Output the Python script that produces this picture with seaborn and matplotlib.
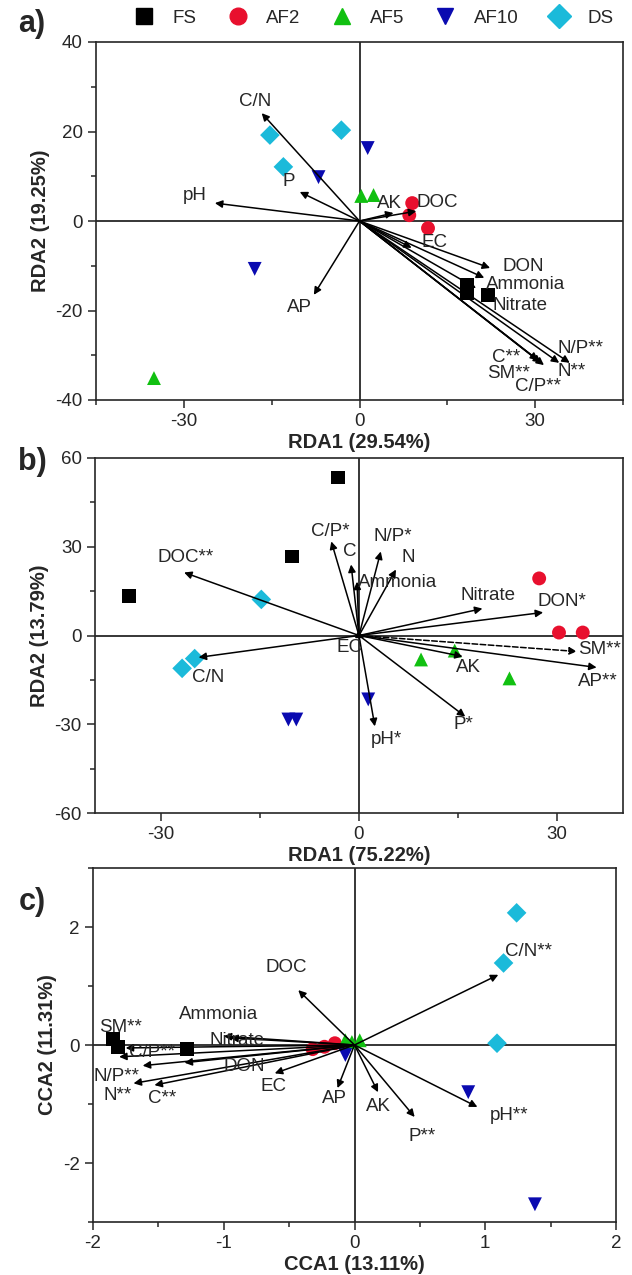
import pandas as pd
import matplotlib.pyplot as plt
import seaborn as sns
from matplotlib.lines import Line2D
from matplotlib.ticker import MultipleLocator

sns.set_style("ticks")
plt.rcParams['font.family'] = ['Liberation Sans', 'DejaVu Sans']
plt.rcParams['axes.unicode_minus'] = False

# treatment groups
groups = ["FS", "AF2", "AF5", "AF10", "DS"]
group_colors = ["#000000", "#e8102e", "#11c011", "#0a0ab0", "#1bbada"]
group_markers = ["s", "o", "^", "v", "D"]

# ---- panel a: RDA (sites) ----
a_group = ["FS", "FS", "FS", "AF2", "AF2", "AF2", "AF5", "AF5", "AF5",
           "AF10", "AF10", "AF10", "DS", "DS", "DS"]
a_x = [18.4, 18.4, 22.0, 9.0, 8.5, 11.7, 0.3, 2.4, -35.1,
       1.4, -7.0, -17.9, -15.3, -3.1, -13.0]
a_y = [-14.3, -16.2, -16.5, 4.0, 1.3, -1.6, 5.6, 5.8, -35.1,
       16.3, 9.8, -10.7, 19.2, 20.3, 12.1]
# panel a: environmental vectors
a_var = ["C/N", "P", "pH", "AP", "AK", "DOC", "EC", "DON", "Ammonia",
         "Nitrate", "C**", "SM**", "C/P**", "N**", "N/P**"]
a_vx = [-16.7, -10.2, -24.7, -7.8, 5.8, 9.7, 8.9, 22.3, 21.3,
        19.9, 30.5, 31.0, 31.5, 34.1, 35.9]
a_vy = [24.1, 6.5, 4.0, -16.5, 1.8, 2.2, -6.0, -10.5, -12.7,
        -15.0, -31.1, -31.7, -32.2, -31.7, -31.7]
a_lx = [-17.9, -12.1, -28.1, -10.2, 5.1, 13.3, 12.8, 27.9, 28.3,
        27.4, 25.0, 25.4, 30.4, 36.3, 37.8]
a_ly = [26.6, 8.9, 5.8, -19.3, 4.0, 4.2, -4.9, -10.1, -14.1,
        -18.8, -30.4, -34.0, -36.9, -33.7, -28.4]

# ---- panel b: RDA (sites) ----
b_group = ["FS", "FS", "FS", "AF2", "AF2", "AF2", "AF5", "AF5", "AF5",
           "AF10", "AF10", "AF10", "DS", "DS", "DS"]
b_x = [-3.2, -10.1, -34.8, 27.3, 30.3, 33.9, 9.4, 14.5, 22.8,
       -10.7, -9.5, 1.4, -14.8, -24.9, -26.8]
b_y = [53.4, 26.7, 13.5, 19.3, 1.0, 1.0, -8.1, -5.1, -14.5,
       -28.4, -28.4, -21.6, 12.2, -7.8, -11.1]
b_var = ["DOC**", "C/N", "C/P*", "C", "Ammonia", "EC", "pH*", "N/P*", "N",
         "Nitrate", "DON*", "SM**", "AP**", "AK", "P*"]
b_vx = [-26.5, -24.3, -4.2, -1.2, -0.3, 0.8, 2.4, 3.3, 5.6,
        18.7, 27.9, 33.0, 36.0, 15.7, 16.1]
b_vy = [21.3, -7.4, 31.8, 24.0, 18.2, -0.8, -30.7, 28.4, 22.3,
        9.1, 7.8, -5.4, -10.8, -7.1, -27.4]
b_lx = [-26.2, -22.8, -4.4, -1.4, 5.9, -1.4, 4.1, 5.1, 7.5,
        19.6, 30.8, 36.4, 36.2, 16.6, 15.8]
b_ly = [26.4, -14.2, 35.1, 28.4, 17.9, -4.1, -35.1, 33.4, 26.4,
        13.5, 11.5, -4.7, -15.5, -10.8, -30.1]

# ---- panel c: CCA (sites) ----
c_group = ["FS", "FS", "FS", "AF2", "AF2", "AF2", "AF5", "AF5", "AF5",
           "AF10", "AF10", "AF10", "DS", "DS", "DS"]
c_x = [-1.85, -1.81, -1.28, -0.32, -0.23, -0.15, -0.07, 0.04, -0.02,
       -0.07, 0.87, 1.38, 1.24, 1.14, 1.09]
c_y = [0.10, -0.03, -0.07, -0.07, -0.03, 0.03, 0.08, 0.08, 0.05,
       -0.17, -0.80, -2.70, 2.24, 1.39, 0.03]
c_var = ["DOC", "Ammonia", "Nitrate", "SM**", "C/P**", "N/P**", "N**", "C**",
         "DON", "EC", "AP", "AK", "P**", "pH**", "C/N**"]
c_vx = [-0.43, -1.00, -0.95, -1.75, -1.80, -1.62, -1.69, -1.53,
        -1.30, -0.61, -0.13, 0.18, 0.46, 0.94, 1.10]
c_vy = [0.93, 0.15, 0.12, -0.05, -0.20, -0.35, -0.65, -0.68,
        -0.30, -0.48, -0.73, -0.80, -1.22, -1.05, 1.19]
c_lx = [-0.52, -1.04, -0.90, -1.79, -1.55, -1.82, -1.81, -1.47,
        -0.84, -0.62, -0.15, 0.18, 0.52, 1.18, 1.33]
c_ly = [1.32, 0.51, 0.08, 0.30, -0.12, -0.54, -0.85, -0.90,
        -0.36, -0.71, -0.90, -1.05, -1.55, -1.20, 1.59]

palette = dict(zip(groups, group_colors))
marker_map = dict(zip(groups, group_markers))


def draw_panel(ax, grp, xs, ys, var, vx, vy, lx, ly, xlim, ylim,
               xmaj, xmin, ymaj, ymin, xlabel, ylabel, dashed=()):
    ax.axhline(0, color="k", lw=1.1, zorder=1)
    ax.axvline(0, color="k", lw=1.1, zorder=1)
    df = pd.DataFrame({"x": xs, "y": ys, "group": grp})
    sns.scatterplot(data=df, x="x", y="y", hue="group", style="group",
                    hue_order=groups, style_order=groups, palette=palette,
                    markers=marker_map, s=100, linewidth=0, legend=False,
                    ax=ax, zorder=3)
    for name, tx, ty, px, py in zip(var, vx, vy, lx, ly):
        ls = "--" if name in dashed else "-"
        ax.annotate("", xy=(tx, ty), xytext=(0, 0), zorder=4,
                    arrowprops=dict(arrowstyle="-|>", color="k", lw=1.1,
                                    ls=ls, mutation_scale=11,
                                    shrinkA=0, shrinkB=0))
        ax.text(px, py, name, ha="center", va="center", fontsize=13.5,
                zorder=5)
    ax.set_xlim(xlim)
    ax.set_ylim(ylim)
    ax.xaxis.set_major_locator(MultipleLocator(xmaj))
    ax.xaxis.set_minor_locator(MultipleLocator(xmin))
    ax.yaxis.set_major_locator(MultipleLocator(ymaj))
    ax.yaxis.set_minor_locator(MultipleLocator(ymin))
    ax.tick_params(which="both", direction="out", top=False, right=False,
                   width=1.1, labelsize=13.5)
    ax.tick_params(which="major", length=6)
    ax.tick_params(which="minor", length=3.5)
    for sp in ax.spines.values():
        sp.set_linewidth(1.2)
    ax.set_xlabel(xlabel, fontsize=14.5, fontweight="bold", labelpad=2)
    ax.set_ylabel(ylabel, fontsize=14.5, fontweight="bold", labelpad=4)


fig = plt.figure(figsize=(6.32, 12.75), dpi=100)
ax_a = fig.add_axes([96 / 632, 1 - 400 / 1275, 527 / 632, 358 / 1275])
ax_b = fig.add_axes([95 / 632, 1 - 813 / 1275, 528 / 632, 355 / 1275])
ax_c = fig.add_axes([93 / 632, 1 - 1222 / 1275, 523 / 632, 354 / 1275])

draw_panel(ax_a, a_group, a_x, a_y, a_var, a_vx, a_vy, a_lx, a_ly,
           (-45, 45), (-40, 40), 30, 15, 20, 10,
           "RDA1 (29.54%)", "RDA2 (19.25%)")
draw_panel(ax_b, b_group, b_x, b_y, b_var, b_vx, b_vy, b_lx, b_ly,
           (-40, 40), (-60, 60), 30, 15, 30, 15,
           "RDA1 (75.22%)", "RDA2 (13.79%)", dashed=("SM**",))
draw_panel(ax_c, c_group, c_x, c_y, c_var, c_vx, c_vy, c_lx, c_ly,
           (-2, 2), (-3, 3), 1, 0.5, 2, 1,
           "CCA1 (13.11%)", "CCA2 (11.31%)")

# panel letters
fig.text(32 / 632, 1 - 24 / 1275, "a)", fontsize=22, fontweight="bold",
         ha="center", va="center")
fig.text(32 / 632, 1 - 462 / 1275, "b)", fontsize=22, fontweight="bold",
         ha="center", va="center")
fig.text(32 / 632, 1 - 902 / 1275, "c)", fontsize=22, fontweight="bold",
         ha="center", va="center")

# shared legend on top
handles = [Line2D([], [], ls="", marker=m, color=c, markersize=12)
           for m, c in zip(group_markers, group_colors)]
fig.legend(handles, groups, loc="center", ncol=5, frameon=False,
           bbox_to_anchor=(0.585, 1 - 18 / 1275), fontsize=13.5,
           handletextpad=0.5, columnspacing=1.2, borderaxespad=0)

fig.savefig("out.png", dpi=100)
